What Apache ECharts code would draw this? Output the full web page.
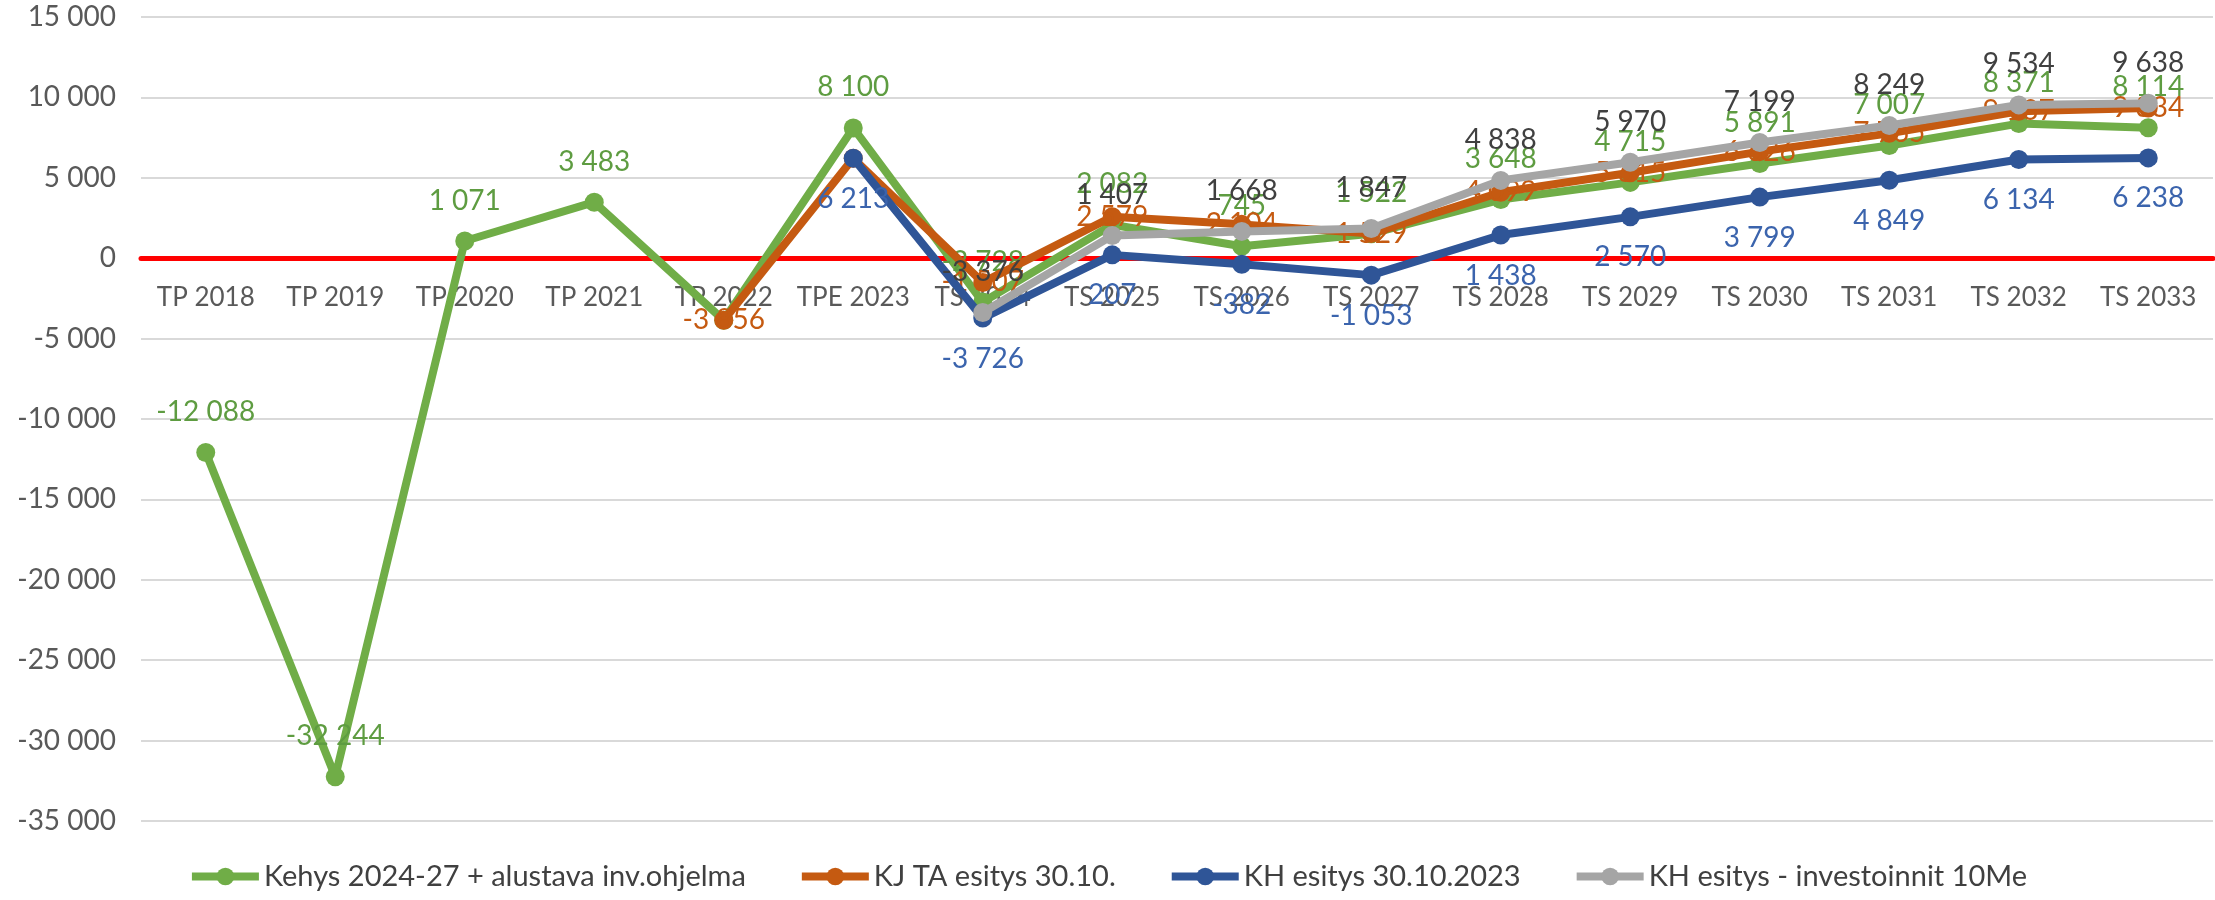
<!DOCTYPE html>
<html>
<head>
<meta charset="utf-8">
<script src="https://cdn.jsdelivr.net/npm/echarts@6/dist/echarts.min.js"></script>
<style>
html,body{margin:0;padding:0;background:#fff;}
#chart{width:2215px;height:900px;}
</style>
</head>
<body>
<div id="chart"></div>
<script>
const categories = ['TP 2018','TP 2019','TP 2020','TP 2021','TP 2022','TPE 2023','TS 2024','TS 2025','TS 2026','TS 2027','TS 2028','TS 2029','TS 2030','TS 2031','TS 2032','TS 2033'];
const kehys = [-12088,-32244,1071,3483,-3856,8100,-2728,2082,745,1522,3648,4715,5891,7007,8371,8114];
const kjTa = [null,null,null,null,-3856,6213,-1507,2579,2104,1529,4099,5315,6626,7765,9137,9334];
const khEsitys = [null,null,null,null,null,6213,-3726,207,-382,-1053,1438,2570,3799,4849,6134,6238];
const khInv = [null,null,null,null,null,null,-3376,1407,1668,1847,4838,5970,7199,8249,9534,9638];
const seriesNames = ['Kehys 2024-27 + alustava inv.ohjelma','KJ TA esitys 30.10.','KH esitys 30.10.2023','KH esitys - investoinnit 10Me'];
const yMin = -35000, yMax = 15000, yStep = 5000;
// labels hidden in the reference (overlapped points)
const hiddenKehysLabels = [4];
const hiddenKjLabels = [5];

function fmt(v){
  if (v === null || v === undefined) return '';
  const s = String(Math.abs(Math.round(v))).replace(/\B(?=(\d{3})+(?!\d))/g, ' ');
  return (v < 0 ? '-' : '') + s;
}
function withHidden(arr, hidden){
  return arr.map((v,i)=> hidden.indexOf(i) >= 0 ? {value:v, label:{show:false}} : v);
}

const FONT = 'Lato';
const GRID_TOP = 17, GRID_BOTTOM = 79, H = 900;
const chart = echarts.init(document.getElementById('chart'), null, {renderer:'canvas'});

// pixel distance from bottom of grid to the zero line, derived from axis scale
const plotH = H - GRID_TOP - GRID_BOTTOM;
const zeroOffset = plotH * (0 - yMin) / (yMax - yMin);

function lineSeries(name, data, color, labelColor, pos, z){
  return {
    name: name,
    type: 'line',
    data: data,
    z: z,
    symbol: 'circle',
    symbolSize: 19,
    lineStyle: {color: color, width: 8},
    itemStyle: {color: color},
    label: {
      show: true,
      position: pos,
      distance: pos === 'inside' ? 0 : 17,
      color: labelColor,
      fontFamily: FONT,
      fontSize: 28,
      formatter: p => fmt(p.value)
    },
    emphasis: {disabled: true}
  };
}

chart.setOption({
  animation: false,
  backgroundColor: '#fff',
  textStyle: {fontFamily: FONT},
  grid: {left: 141, right: 2, top: GRID_TOP, bottom: GRID_BOTTOM, containLabel: false},
  legend: {
    bottom: 4,
    left: 'center',
    itemWidth: 67,
    itemHeight: 22,
    itemGap: 52,
    lineStyle: {width: 8},
    textStyle: {color: '#404040', fontFamily: FONT, fontSize: 29},
    data: seriesNames
  },
  xAxis: {
    type: 'category',
    data: categories,
    boundaryGap: true,
    position: 'bottom',
    offset: -zeroOffset,
    axisLine: {onZero: false, lineStyle: {color: '#ff0000', width: 5}},
    axisTick: {show: false},
    axisLabel: {color: '#595959', fontFamily: FONT, fontSize: 26, margin: 26, interval: 0},
    splitLine: {show: false},
    z: 1
  },
  yAxis: {
    type: 'value',
    min: yMin,
    max: yMax,
    interval: yStep,
    axisLine: {show: false},
    axisTick: {show: false},
    axisLabel: {color: '#595959', fontFamily: FONT, fontSize: 28, margin: 25, formatter: v => fmt(v)},
    splitLine: {lineStyle: {color: '#d9d9d9', width: 2}}
  },
  series: [
    lineSeries(seriesNames[0], withHidden(kehys, hiddenKehysLabels), '#70ad47', '#5e9c41', 'top', 3),
    lineSeries(seriesNames[1], withHidden(kjTa, hiddenKjLabels), '#c55a11', '#c55a11', 'inside', 4),
    lineSeries(seriesNames[2], khEsitys, '#2f5597', '#3b64ad', 'bottom', 5),
    lineSeries(seriesNames[3], khInv, '#a5a5a5', '#404040', 'top', 6)
  ]
});
</script>
</body>
</html>
